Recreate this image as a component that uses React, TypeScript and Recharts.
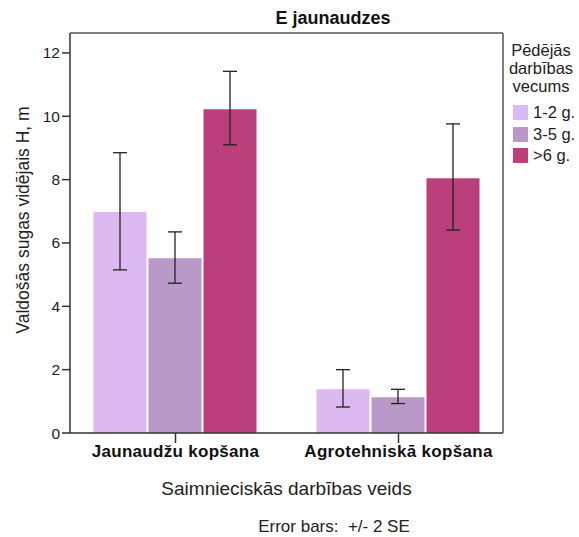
import React from 'react';
import {
    Bar,
    BarChart,
    ErrorBar,
    Legend,
    XAxis,
    YAxis,
} from 'recharts';

const categories = ['Jaunaudžu kopšana', 'Agrotehniskā kopšana'];
const seriesNames = ['1-2 g.', '3-5 g.', '>6 g.'];
const seriesColors = ['#DDB9F1', '#B899C8', '#BB3F7B'];
// mean heights, m
const means = [
    [6.98, 1.38],
    [5.52, 1.13],
    [10.22, 8.04],
];
// lower / upper ends of the error bars (+/- 2 SE)
const lowEnds = [
    [5.15, 0.82],
    [4.73, 0.93],
    [9.1, 6.41],
];
const highEnds = [
    [8.85, 2.0],
    [6.35, 1.38],
    [11.42, 9.76],
];
const yTicks = [0, 2, 4, 6, 8, 10, 12];

const font = '"Liberation Sans", Arial, sans-serif';

const chartData = categories.map((name, i) => {
    const row: Record<string, any> = {name};
    seriesNames.forEach((_, s) => {
        row[`s${s}`] = means[s][i];
        row[`e${s}`] = [means[s][i] - lowEnds[s][i], highEnds[s][i] - means[s][i]];
    });
    return row;
});

const renderLegend = (props: any) => (
    <div style={{fontFamily: font, fontSize: 16.5, color: '#222', textAlign: 'left'}}>
        <div style={{textAlign: 'center', lineHeight: '18px'}}>
            Pēdējās
            <br />
            darbības
            <br />
            vecums
        </div>
        <div style={{marginTop: 7, paddingLeft: 8}}>
            {(props.payload || []).map((p: any) => (
                <div
                    key={p.value}
                    style={{display: 'flex', alignItems: 'center', height: 21.5}}
                >
                    <span
                        style={{
                            display: 'inline-block',
                            width: 15,
                            height: 15,
                            background: p.color,
                            marginRight: 5,
                        }}
                    />
                    {p.value}
                </div>
            ))}
        </div>
    </div>
);

const YLabel = (props: any) => {
    const vb = props.viewBox || {x: 0, y: 0, width: 0, height: 0};
    const cx = vb.x + 13;
    const cy = vb.y + vb.height / 2 - 13;
    return (
        <text
            x={cx}
            y={cy}
            transform={`rotate(-90 ${cx} ${cy})`}
            textAnchor='middle'
            dominantBaseline='central'
            fontFamily={font}
            fontSize={17.5}
            fill='#222'
        >
            Valdošās sugas vidējais H, m
        </text>
    );
};

const App: React.FC = () => {
    return (
        <div
            style={{
                position: 'absolute',
                left: 0,
                top: 0,
                width: 579,
                height: 537,
                background: '#fff',
                fontFamily: font,
            }}
        >
            <div
                style={{
                    position: 'absolute',
                    left: 0,
                    top: 8,
                    width: 666,
                    textAlign: 'center',
                    fontWeight: 'bold',
                    fontSize: 18,
                    lineHeight: '20px',
                    color: '#111',
                }}
            >
                E jaunaudzes
            </div>
            <BarChart
                width={579}
                height={537}
                data={chartData}
                margin={{top: 32, right: 75, left: 10, bottom: 42}}
                barCategoryGap={29.5}
                barGap={2}
            >
                <XAxis
                    dataKey='name'
                    height={62}
                    padding={{left: -6, right: -7}}
                    tickSize={10}
                    tickMargin={2}
                    axisLine={{stroke: '#333', strokeWidth: 1.5}}
                    tickLine={{stroke: '#333', strokeWidth: 1.5}}
                    tick={{fill: '#111', fontSize: 17, fontWeight: 'bold', letterSpacing: 0.3}}
                    label={{
                        value: 'Saimnieciskās darbības veids',
                        position: 'insideBottom',
                        offset: 0,
                        fill: '#222',
                        fontSize: 19,
                    }}
                />
                <XAxis
                    xAxisId='top'
                    orientation='top'
                    dataKey='name'
                    height={1}
                    tick={false}
                    tickLine={false}
                    axisLine={{stroke: '#555', strokeWidth: 1.5}}
                />
                <YAxis
                    width={60}
                    domain={[0, 12.63]}
                    ticks={yTicks}
                    tickSize={8}
                    tickMargin={2}
                    axisLine={{stroke: '#333', strokeWidth: 1.5}}
                    tickLine={{stroke: '#333', strokeWidth: 1.5}}
                    tick={{fill: '#222', fontSize: 15.5}}
                    label={<YLabel />}
                />
                <YAxis
                    yAxisId='right'
                    orientation='right'
                    width={1}
                    tick={false}
                    tickLine={false}
                    axisLine={{stroke: '#555', strokeWidth: 1.5}}
                />
                <Legend
                    layout='horizontal'
                    align='center'
                    verticalAlign='middle'
                    content={renderLegend}
                    wrapperStyle={{top: 41, left: 505, width: 72}}
                />
                {seriesNames.map((s, idx) => (
                    <Bar
                        key={s}
                        dataKey={`s${idx}`}
                        name={s}
                        fill={seriesColors[idx]}
                        isAnimationActive={false}
                    >
                        <ErrorBar
                            dataKey={`e${idx}`}
                            width={7}
                            stroke='#222'
                            strokeWidth={1.3}
                        />
                    </Bar>
                ))}
            </BarChart>
            <div
                style={{
                    position: 'absolute',
                    left: 0,
                    top: 517,
                    width: 668,
                    textAlign: 'center',
                    fontSize: 17,
                    lineHeight: '20px',
                    color: '#222',
                    whiteSpace: 'pre',
                }}
            >
                {'Error bars:  +/- 2 SE'}
            </div>
        </div>
    );
};

export default App;
